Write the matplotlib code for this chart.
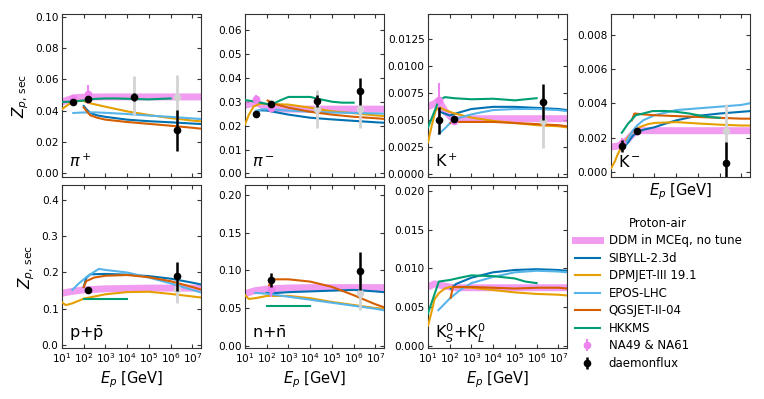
import matplotlib
matplotlib.use("Agg")
import matplotlib.pyplot as plt
from matplotlib.ticker import MultipleLocator, FormatStrFormatter, FixedLocator, NullLocator

# ---------------- data (energy in GeV, Z values) ----------------
# pi+
pip_ddm = ([10, 20, 31.6, 60, 158, 1e3, 2.5e7], [0.0455, 0.047, 0.048, 0.0485, 0.0487, 0.0488, 0.0488])
pip_sib = ([100, 130, 200, 400, 1e3, 1e4, 1e5, 1e6, 1e7, 2.5e7], [0.043, 0.041, 0.0385, 0.0370, 0.036, 0.0342, 0.0332, 0.0325, 0.0317, 0.0314])
pip_dpm = ([10, 20, 50, 100, 158, 1e3, 1e4, 1e5, 1e6, 1e7, 2.5e7], [0.041, 0.044, 0.0463, 0.0462, 0.0450, 0.0425, 0.0395, 0.0372, 0.0352, 0.0336, 0.0331])
pip_epo = ([33, 100, 300, 1e3, 1e4, 1e5, 1e6, 1e7, 2.5e7], [0.0385, 0.0388, 0.0389, 0.0386, 0.0378, 0.0368, 0.036, 0.0350, 0.0346])
pip_qgs = ([100, 130, 200, 400, 1e3, 1e4, 1e5, 1e6, 1e7, 2.5e7], [0.042, 0.040, 0.037, 0.0355, 0.0342, 0.0327, 0.0315, 0.0303, 0.029, 0.0284])
pip_hkk = ([10, 30, 100, 300, 1e3, 3e3, 1e4, 3e4, 1e5, 3e5, 1e6], [0.0455, 0.0458, 0.0465, 0.0475, 0.0478, 0.0478, 0.0476, 0.0474, 0.0472, 0.0475, 0.0478])
pip_na = ([31, 158], [0.0480, 0.0505], [0.0010, 0.0060])
pip_dae = ([31.6, 158, 2e4, 2e6], [0.0457, 0.0476, 0.0487, 0.0273], [0.0015, 0.0015, 0.0027, 0.013])
pip_pri = ([2e4, 2e6], [0.0495, 0.0487], [0.0125, 0.0143])

# pi-
pim_ddm = ([10, 20, 31.6, 60, 158, 1e3, 2.5e7], [0.0285, 0.0292, 0.0298, 0.0285, 0.0272, 0.0269, 0.0269])
pim_sib = ([31.6, 50, 100, 300, 1e3, 1e4, 1e5, 1e6, 1e7, 2.5e7], [0.0258, 0.0264, 0.0263, 0.0255, 0.0246, 0.0233, 0.0226, 0.0220, 0.0214, 0.0212])
pim_dpm = ([10, 15, 25, 50, 158, 1e3, 1e4, 1e5, 1e6, 1e7, 2.5e7], [0.0205, 0.0245, 0.028, 0.0292, 0.029, 0.0288, 0.0275, 0.026, 0.0252, 0.0243, 0.024])
pim_epo = ([31.6, 60, 158, 1e3, 1e4, 1e5, 1e6, 1e7, 2.5e7], [0.0262, 0.0268, 0.0268, 0.0263, 0.0258, 0.0255, 0.0253, 0.0251, 0.025])
pim_qgs = ([110, 158, 300, 1e3, 1e4, 1e5, 1e6, 1e7, 2.5e7], [0.0305, 0.0298, 0.0288, 0.0275, 0.0258, 0.0246, 0.0237, 0.0231, 0.0228])
pim_hkk = ([10, 31.6, 158, 400, 1e3, 1e4, 3e4, 1e5, 3e5, 1e6], [0.0307, 0.030, 0.0287, 0.0305, 0.032, 0.032, 0.031, 0.030, 0.0296, 0.0296])
pim_na = ([31, 158], [0.0310, 0.0272], [0.0020, 0.0010])
pim_dae = ([31.6, 158, 2e4, 2e6], [0.0248, 0.0290, 0.0304, 0.0344], [0.0008, 0.0008, 0.0025, 0.0056])
pim_pri = ([2e4, 2e6], [0.0268, 0.0268], [0.008, 0.008])

# K+
kp_ddm = ([10, 20, 31.6, 60, 158, 1e3, 2.5e7], [0.0062, 0.0065, 0.0068, 0.0058, 0.0050, 0.0051, 0.0051])
kp_sib = ([40, 100, 300, 1e3, 1e4, 1e5, 1e6, 1e7, 2.5e7], [0.0057, 0.0054, 0.0057, 0.0060, 0.0062, 0.0062, 0.0061, 0.0060, 0.0059])
kp_dpm = ([10, 15, 22, 31.6, 60, 158, 1e3, 1e4, 1e5, 1e6, 1e7, 2.5e7], [0.0029, 0.0045, 0.0058, 0.0062, 0.0059, 0.0056, 0.0052, 0.0049, 0.0047, 0.0045, 0.0044, 0.0043])
kp_epo = ([31.6, 60, 130, 300, 1e3, 3e3, 1e4, 1e5, 1e6, 1e7, 2.5e7], [0.0037, 0.0042, 0.0049, 0.0052, 0.0055, 0.0057, 0.0059, 0.0060, 0.0060, 0.0059, 0.0058])
kp_qgs = ([110, 158, 1e3, 1e4, 1e5, 1e6, 1e7, 2.5e7], [0.0047, 0.0048, 0.0048, 0.0048, 0.0047, 0.0046, 0.0045, 0.0044])
kp_hkk = ([10, 20, 31.6, 60, 158, 1e3, 1e4, 1e5, 1e6], [0.0043, 0.0058, 0.0068, 0.0071, 0.0070, 0.0069, 0.00695, 0.0068, 0.0070])
kp_na = ([31, 158], [0.0068, 0.0049], [0.0016, 0.0003])
kp_dae = ([31.6, 158, 2e6], [0.00495, 0.0051, 0.00665], [0.00128, 0.0002, 0.0017])
kp_pri = ([2e6], [0.0049], [0.0025])

# K-
km_ddm = ([10, 20, 31.6, 60, 100, 158, 1e3, 2.5e7], [0.00145, 0.0015, 0.0016, 0.0019, 0.0022, 0.0024, 0.0024, 0.0024])
km_sib = ([31.6, 60, 100, 158, 300, 1e3, 3e3, 1e4, 8e4, 1e6, 1e7, 2.5e7], [0.0013, 0.0017, 0.0021, 0.0023, 0.00245, 0.0026, 0.0028, 0.0030, 0.00325, 0.0034, 0.0035, 0.00354])
km_dpm = ([10, 15, 20, 31.6, 60, 100, 200, 500, 1e3, 1e4, 1e5, 1e6, 1e7, 2.5e7], [0.0002, 0.0006, 0.001, 0.0015, 0.0020, 0.00235, 0.0026, 0.00278, 0.00285, 0.0029, 0.00282, 0.00275, 0.0027, 0.0027])
km_epo = ([31.6, 60, 100, 158, 300, 1e3, 1e4, 1e5, 1e6, 1e7, 2.5e7], [0.0013, 0.0019, 0.0024, 0.0027, 0.0030, 0.0033, 0.0036, 0.0037, 0.0038, 0.0039, 0.0040])
km_qgs = ([90, 120, 300, 1e3, 1e4, 1e5, 1e6, 1e7, 2.5e7], [0.0030, 0.0034, 0.00335, 0.0033, 0.00325, 0.0032, 0.00315, 0.0031, 0.0031])
km_hkk = ([31.6, 60, 138, 300, 800, 3e3, 1e4, 4e4, 1e5, 3e5, 1e6], [0.00228, 0.0028, 0.0033, 0.0034, 0.00354, 0.00355, 0.0035, 0.0034, 0.0033, 0.0032, 0.00315])
km_na = ([31, 158], [0.0017, 0.0024], [0.0003, 0.0001])
km_dae = ([31.6, 158, 2e6], [0.0015, 0.00238, 0.00054], [0.00034, 0.0001, 0.0012])
km_pri = ([2e6], [0.00238], [0.0016])

# p + pbar
pp_ddm = ([10, 30, 100, 1e3, 1e4, 1e5, 2.5e7], [0.143, 0.148, 0.152, 0.155, 0.156, 0.157, 0.157])
pp_sib = ([100, 130, 200, 1e3, 1e4, 1e5, 1e6, 1e7, 2.5e7], [0.160, 0.185, 0.195, 0.196, 0.194, 0.19, 0.183, 0.172, 0.167])
pp_dpm = ([10, 15, 30, 100, 1e3, 1e4, 1e5, 1e6, 1e7, 2.5e7], [0.118, 0.110, 0.115, 0.128, 0.140, 0.146, 0.147, 0.141, 0.134, 0.131])
pp_epo = ([30, 60, 150, 500, 1e3, 1e4, 1e5, 1e6, 1e7, 2.5e7], [0.152, 0.170, 0.19, 0.21, 0.207, 0.2, 0.186, 0.17, 0.152, 0.145])
pp_qgs = ([100, 130, 300, 1e3, 1e4, 1e5, 1e6, 1e7, 2.5e7], [0.16, 0.176, 0.186, 0.191, 0.193, 0.187, 0.176, 0.16, 0.153])
pp_hkk = ([100, 1e4], [0.126, 0.126])
pp_dae = ([158, 2e6], [0.152, 0.19], [0.005, 0.04])
pp_pri = ([2e6], [0.155], [0.04])

# n + nbar
nn_ddm = ([10, 30, 100, 1e3, 1e4, 2.5e7], [0.069, 0.073, 0.075, 0.0765, 0.077, 0.077])
nn_sib = ([100, 300, 1e3, 1e4, 1e5, 1e6, 1e7, 2.5e7], [0.070, 0.070, 0.071, 0.072, 0.073, 0.074, 0.072, 0.071])
nn_dpm = ([10, 15, 30, 100, 1e3, 1e4, 1e5, 1e6, 1e7, 2.5e7], [0.067, 0.062, 0.063, 0.066, 0.066, 0.063, 0.058, 0.054, 0.050, 0.049])
nn_epo = ([30, 100, 300, 1e3, 1e4, 1e5, 1e6, 1e7, 2.5e7], [0.070, 0.069, 0.067, 0.065, 0.061, 0.057, 0.053, 0.049, 0.047])
nn_qgs = ([130, 158, 1e3, 1e4, 1e5, 1e6, 1e7, 2.5e7], [0.080, 0.088, 0.088, 0.085, 0.078, 0.067, 0.055, 0.051])
nn_hkk = ([100, 1e4], [0.052, 0.052])
nn_na = ([158], [0.075], [0.010])
nn_dae = ([158, 2e6], [0.087, 0.0995], [0.009, 0.025])
nn_pri = ([2e6], [0.070], [0.022])

# K0S + K0L
k0_ddm = ([10, 20, 40, 158, 1e3, 2.5e7], [0.0076, 0.0080, 0.0078, 0.0075, 0.0075, 0.0075])
k0_sib = ([110, 200, 1e3, 1e4, 1e5, 1e6, 1e7, 2.5e7], [0.0074, 0.0080, 0.0088, 0.0095, 0.0098, 0.0099, 0.0098, 0.0097])
k0_dpm = ([10, 15, 20, 31.6, 60, 100, 1e3, 1e4, 1e5, 1e6, 1e7, 2.5e7], [0.0026, 0.0045, 0.006, 0.0068, 0.0074, 0.0076, 0.0075, 0.0072, 0.0069, 0.0067, 0.0066, 0.0065])
k0_epo = ([30, 100, 300, 1e3, 1e4, 1e5, 1e6, 1e7, 2.5e7], [0.0046, 0.0061, 0.0072, 0.0081, 0.0089, 0.0095, 0.0097, 0.0096, 0.0095])
k0_qgs = ([110, 140, 1e3, 1e4, 1e5, 1e6, 1e7, 2.5e7], [0.0062, 0.0076, 0.0076, 0.0075, 0.0074, 0.0075, 0.0075, 0.0074])
k0_hkk = ([10, 31.6, 100, 300, 1e3, 1e4, 1e5, 3e5, 1e6], [0.0042, 0.0083, 0.0085, 0.0088, 0.0091, 0.009, 0.0087, 0.0083, 0.0081])

panel_labels = [r"$\pi^+$", r"$\pi^-$", r"K$^+$", r"K$^-$", r"p+$\bar{\rm p}$", r"n+$\bar{\rm n}$", r"K$^0_S$+K$^0_L$"]
ylims = [(-0.0026, 0.102), (-0.0015, 0.0667), (-0.0003, 0.0148), (-0.0003, 0.0092),
         (-0.008, 0.441), (-0.003, 0.213), (-0.0003, 0.0208)]
ysteps = [0.02, 0.01, 0.0025, 0.002, 0.1, 0.05, 0.005]
yfmts = ["%.2f", "%.2f", "%.4f", "%.3f", "%.1f", "%.2f", "%.3f"]
xticks = [1e1, 1e2, 1e3, 1e4, 1e5, 1e6, 1e7]

model_names = ["SIBYLL-2.3d", "DPMJET-III 19.1", "EPOS-LHC", "QGSJET-II-04", "HKKMS"]
model_colors = ["#0072B2", "#E69F00", "#56B4E9", "#D55E00", "#009E73"]

panels = [
    (pip_ddm, [pip_sib, pip_dpm, pip_epo, pip_qgs, pip_hkk], pip_na, pip_dae, pip_pri),
    (pim_ddm, [pim_sib, pim_dpm, pim_epo, pim_qgs, pim_hkk], pim_na, pim_dae, pim_pri),
    (kp_ddm, [kp_sib, kp_dpm, kp_epo, kp_qgs, kp_hkk], kp_na, kp_dae, kp_pri),
    (km_ddm, [km_sib, km_dpm, km_epo, km_qgs, km_hkk], km_na, km_dae, km_pri),
    (pp_ddm, [pp_sib, pp_dpm, pp_epo, pp_qgs, pp_hkk], None, pp_dae, pp_pri),
    (nn_ddm, [nn_sib, nn_dpm, nn_epo, nn_qgs, nn_hkk], nn_na, nn_dae, nn_pri),
    (k0_ddm, [k0_sib, k0_dpm, k0_epo, k0_qgs, k0_hkk], None, None, None),
]

# ---------------- figure ----------------
W, H = 764, 399
fig = plt.figure(figsize=(W / 100, H / 100), dpi=100)
col_left = [62, 245, 428, 611]
aw = 139
row_top = [14, 185]
ah = 163

axes = []
for i in range(7):
    r, c = divmod(i, 4)
    l = col_left[c] / W
    b = 1 - (row_top[r] + ah) / H
    ax = fig.add_axes([l, b, aw / W, ah / H])
    axes.append(ax)

for i, ax in enumerate(axes):
    ddm, models, na, dae, pri = panels[i]
    ax.plot(ddm[0], ddm[1], color="violet", lw=5, alpha=0.8, solid_capstyle="butt", zorder=2)
    for (E, Z), col in zip(models, model_colors):
        ax.plot(E, Z, color=col, lw=1.5, zorder=3)
    if pri is not None:
        ax.errorbar(pri[0], pri[1], yerr=pri[2], fmt="o", color="lightgray", ms=4.5, lw=2, zorder=4)
    if na is not None:
        ax.errorbar(na[0], na[1], yerr=na[2], fmt="o", color="violet", ms=4.5, lw=1.5, zorder=5)
    if dae is not None:
        ax.errorbar(dae[0], dae[1], yerr=dae[2], fmt="o", color="black", ms=4.5, lw=1.8, zorder=6)

    ax.set_xscale("log")
    ax.set_xlim(10, 2.5e7)
    ax.xaxis.set_major_locator(FixedLocator(xticks))
    ax.xaxis.set_minor_locator(NullLocator())
    ax.set_ylim(*ylims[i])
    ax.yaxis.set_major_locator(MultipleLocator(ysteps[i]))
    ax.yaxis.set_major_formatter(FormatStrFormatter(yfmts[i]))
    ax.tick_params(direction="in", top=True, right=True, labelsize=7.6, length=2.8,
                   color="#333333", pad=2.5)
    for s in ax.spines.values():
        s.set_color("#333333")
    ax.text(0.05, 0.06, panel_labels[i], transform=ax.transAxes, fontsize=11.5, va="baseline", ha="left")
    if i < 4:
        ax.tick_params(labelbottom=False)
    if i >= 3:
        ax.set_xlabel(r"$E_p$ [GeV]", fontsize=10.5, labelpad=3)
    if i in (0, 4):
        ax.set_ylabel(r"$Z_{p,\,\rm sec}$", fontsize=11, labelpad=3)

# ---------------- legend ----------------
handles = []
h, = axes[0].plot([], [], color="violet", lw=5, alpha=0.8)
handles.append(h)
for col in model_colors:
    h, = axes[0].plot([], [], color=col, lw=1.5)
    handles.append(h)
h_na = axes[0].errorbar([], [], yerr=[], fmt="o", color="violet", ms=4.5, lw=1.5)
h_da = axes[0].errorbar([], [], yerr=[], fmt="o", color="black", ms=4.5, lw=1.8)
handles += [h_na, h_da]
labels = ["DDM in MCEq, no tune"] + model_names + ["NA49 & NA61", "daemonflux"]
fig.legend(handles, labels, title="Proton-air", loc="upper left",
           bbox_to_anchor=(575 / W, 1 - 217 / H), frameon=False, fontsize=8.5,
           title_fontsize=8.5, labelspacing=0.38, handlelength=2.1, handletextpad=0.75,
           borderpad=0.0, borderaxespad=0.0)

fig.savefig("out.png", dpi=100)
